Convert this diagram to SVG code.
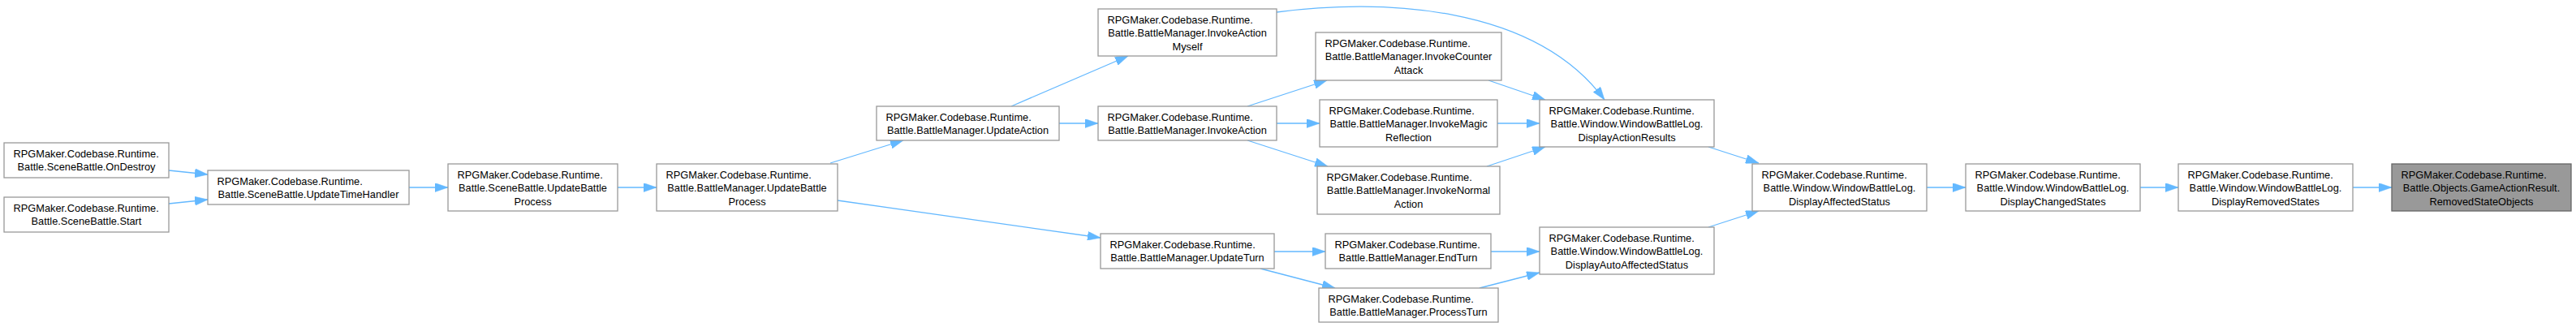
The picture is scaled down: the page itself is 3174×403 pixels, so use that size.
<svg xmlns="http://www.w3.org/2000/svg" width="3174" height="403" viewBox="0 0 3174 403">
<style>
.node rect{fill:#ffffff;stroke:#999999;stroke-width:1.3}
.node.hl rect{fill:#999999;stroke:#666666}
.node text{font-family:"Liberation Sans",Arial,Helvetica,sans-serif;font-size:12.8px;fill:#000000}
.node text.c{text-anchor:middle}
.edge{fill:none;stroke:#63b8ff;stroke-width:1.3;marker-end:url(#ah)}
</style>
<defs>
<marker id="ah" markerUnits="userSpaceOnUse" markerWidth="16" markerHeight="11" viewBox="0 0 16 11" refX="16" refY="5.5" orient="auto">
<path d="M0,0 L16,5.5 L0,11 z" fill="#63b8ff" stroke="#63b8ff" stroke-width="0.5"/>
</marker>
</defs>
<rect width="3174" height="403" fill="#ffffff"/>
<g id="edges">
<path class="edge" d="M208,210 L256,215"/>
<path class="edge" d="M208,251 L256,246"/>
<path class="edge" d="M504,231 L552,231"/>
<path class="edge" d="M761,231 L809,231"/>
<path class="edge" d="M1023,201 L1113,173"/>
<path class="edge" d="M1032,247 L1356,293"/>
<path class="edge" d="M1246,131 L1390,69"/>
<path class="edge" d="M1305,152 L1353,152"/>
<path class="edge" d="M1537,131 L1635,99"/>
<path class="edge" d="M1573,152 L1626,152"/>
<path class="edge" d="M1537,173 L1636,205"/>
<path class="edge" d="M1573,15 C1700,-2 1890,5 1977,123"/>
<path class="edge" d="M1834,99 L1904,123"/>
<path class="edge" d="M1845,152 L1897,152"/>
<path class="edge" d="M1832,205 L1904,181"/>
<path class="edge" d="M1570,310 L1633,310"/>
<path class="edge" d="M1553,331 L1645,355"/>
<path class="edge" d="M1837,310 L1897,310"/>
<path class="edge" d="M1823,355 L1897,336"/>
<path class="edge" d="M2105,181 L2167,201"/>
<path class="edge" d="M2105,280 L2167,260"/>
<path class="edge" d="M2374,231 L2422,231"/>
<path class="edge" d="M2637,231 L2684,231"/>
<path class="edge" d="M2899,231 L2947,231"/>
</g>
<g id="n_ondestroy" class="node"><rect x="5" y="176" width="203" height="43"/>
<text x="16.5" y="194">RPGMaker.Codebase.Runtime.</text><text class="c" x="106.5" y="210.3">Battle.SceneBattle.OnDestroy</text></g>
<g id="n_start" class="node"><rect x="5" y="243" width="203" height="43"/>
<text x="16.5" y="261">RPGMaker.Codebase.Runtime.</text><text class="c" x="106.5" y="277.3">Battle.SceneBattle.Start</text></g>
<g id="n_updatetimehandler" class="node"><rect x="256" y="210" width="248" height="42"/>
<text x="267.5" y="228">RPGMaker.Codebase.Runtime.</text><text class="c" x="380" y="244.3">Battle.SceneBattle.UpdateTimeHandler</text></g>
<g id="n_scenebattle_updatebattleprocess" class="node"><rect x="552" y="202" width="209" height="58"/>
<text x="563.5" y="220.2">RPGMaker.Codebase.Runtime.</text><text class="c" x="656.5" y="236.4">Battle.SceneBattle.UpdateBattle</text><text class="c" x="656.5" y="252.6">Process</text></g>
<g id="n_battlemanager_updatebattleprocess" class="node"><rect x="809" y="202" width="223" height="58"/>
<text x="820.5" y="220.2">RPGMaker.Codebase.Runtime.</text><text class="c" x="920.5" y="236.4">Battle.BattleManager.UpdateBattle</text><text class="c" x="920.5" y="252.6">Process</text></g>
<g id="n_updateaction" class="node"><rect x="1080" y="131" width="225" height="42"/>
<text x="1091.5" y="149">RPGMaker.Codebase.Runtime.</text><text class="c" x="1192.5" y="165.3">Battle.BattleManager.UpdateAction</text></g>
<g id="n_invokeactionmyself" class="node"><rect x="1353" y="11" width="220" height="58"/>
<text x="1364.5" y="29.2">RPGMaker.Codebase.Runtime.</text><text class="c" x="1463" y="45.4">Battle.BattleManager.InvokeAction</text><text class="c" x="1463" y="61.6">Myself</text></g>
<g id="n_invokeaction" class="node"><rect x="1353" y="131" width="220" height="42"/>
<text x="1364.5" y="149">RPGMaker.Codebase.Runtime.</text><text class="c" x="1463" y="165.3">Battle.BattleManager.InvokeAction</text></g>
<g id="n_updateturn" class="node"><rect x="1356" y="288" width="214" height="43"/>
<text x="1367.5" y="306">RPGMaker.Codebase.Runtime.</text><text class="c" x="1463" y="322.3">Battle.BattleManager.UpdateTurn</text></g>
<g id="n_invokecounterattack" class="node"><rect x="1621" y="40" width="229" height="59"/>
<text x="1632.5" y="58.2">RPGMaker.Codebase.Runtime.</text><text class="c" x="1735.5" y="74.4">Battle.BattleManager.InvokeCounter</text><text class="c" x="1735.5" y="90.6">Attack</text></g>
<g id="n_invokemagicreflection" class="node"><rect x="1626" y="123" width="219" height="58"/>
<text x="1637.5" y="141.2">RPGMaker.Codebase.Runtime.</text><text class="c" x="1735.5" y="157.4">Battle.BattleManager.InvokeMagic</text><text class="c" x="1735.5" y="173.6">Reflection</text></g>
<g id="n_invokenormalaction" class="node"><rect x="1623" y="205" width="225" height="59"/>
<text x="1634.5" y="223.2">RPGMaker.Codebase.Runtime.</text><text class="c" x="1735.5" y="239.4">Battle.BattleManager.InvokeNormal</text><text class="c" x="1735.5" y="255.6">Action</text></g>
<g id="n_endturn" class="node"><rect x="1633" y="288" width="204" height="43"/>
<text x="1644.5" y="306">RPGMaker.Codebase.Runtime.</text><text class="c" x="1735" y="322.3">Battle.BattleManager.EndTurn</text></g>
<g id="n_processturn" class="node"><rect x="1625" y="355" width="221" height="42"/>
<text x="1636.5" y="373">RPGMaker.Codebase.Runtime.</text><text class="c" x="1735.5" y="389.3">Battle.BattleManager.ProcessTurn</text></g>
<g id="n_displayactionresults" class="node"><rect x="1897" y="123" width="215" height="58"/>
<text x="1908.5" y="141.2">RPGMaker.Codebase.Runtime.</text><text class="c" x="2004.5" y="157.4">Battle.Window.WindowBattleLog.</text><text class="c" x="2004.5" y="173.6">DisplayActionResults</text></g>
<g id="n_displayautoaffectedstatus" class="node"><rect x="1897" y="280" width="215" height="58"/>
<text x="1908.5" y="298.2">RPGMaker.Codebase.Runtime.</text><text class="c" x="2004.5" y="314.4">Battle.Window.WindowBattleLog.</text><text class="c" x="2004.5" y="330.6">DisplayAutoAffectedStatus</text></g>
<g id="n_displayaffectedstatus" class="node"><rect x="2159" y="202" width="215" height="58"/>
<text x="2170.5" y="220.2">RPGMaker.Codebase.Runtime.</text><text class="c" x="2266.5" y="236.4">Battle.Window.WindowBattleLog.</text><text class="c" x="2266.5" y="252.6">DisplayAffectedStatus</text></g>
<g id="n_displaychangedstates" class="node"><rect x="2422" y="202" width="215" height="58"/>
<text x="2433.5" y="220.2">RPGMaker.Codebase.Runtime.</text><text class="c" x="2529.5" y="236.4">Battle.Window.WindowBattleLog.</text><text class="c" x="2529.5" y="252.6">DisplayChangedStates</text></g>
<g id="n_displayremovedstates" class="node"><rect x="2684" y="202" width="215" height="58"/>
<text x="2695.5" y="220.2">RPGMaker.Codebase.Runtime.</text><text class="c" x="2791.5" y="236.4">Battle.Window.WindowBattleLog.</text><text class="c" x="2791.5" y="252.6">DisplayRemovedStates</text></g>
<g id="n_removedstateobjects" class="node hl"><rect x="2947" y="202" width="221" height="58"/>
<text x="2958.5" y="220.2">RPGMaker.Codebase.Runtime.</text><text class="c" x="3057.5" y="236.4">Battle.Objects.GameActionResult.</text><text class="c" x="3057.5" y="252.6">RemovedStateObjects</text></g>
</svg>
